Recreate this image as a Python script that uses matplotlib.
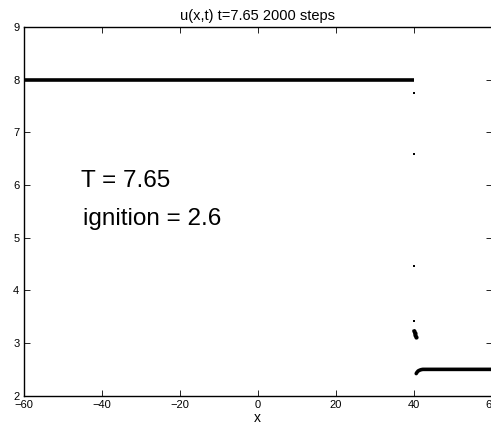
import matplotlib
matplotlib.use("Agg")
import matplotlib.pyplot as plt

# Data
x_burnt = [-60.0, 40.1]
u_burnt = [8.0, 8.0]

x_front = [40.1, 40.1, 40.1, 40.1, 40.15, 40.3, 40.5, 40.7]
u_front = [7.75, 6.58, 4.46, 3.42, 3.23, 3.19, 3.15, 3.11]

x_unburnt = [40.7, 40.9, 41.2, 41.6, 42.0, 42.4, 60.0]
u_unburnt = [2.42, 2.445, 2.47, 2.485, 2.495, 2.5, 2.5]

title = "u(x,t) t=7.65 2000 steps"
xlabel = "x"
xticks = [-60, -40, -20, 0, 20, 40, 60]
yticks = [2, 3, 4, 5, 6, 7, 8, 9]
annot1 = "T = 7.65"
annot2 = "ignition = 2.6"

plt.rcParams['font.family'] = ['Liberation Sans', 'DejaVu Sans']

fig = plt.figure(figsize=(4.91, 4.26), dpi=100)
ax = fig.add_axes([23.5 / 491, 1 - 395.7 / 426, (491.5 - 23.5) / 491, (395.7 - 27) / 426])

ax.plot(x_burnt, u_burnt, color='black', lw=2.6, solid_capstyle='butt')
ax.plot(x_front[:4], u_front[:4], ls='none', marker='s', ms=2, color='black', mew=0)
ax.plot(x_front[4:], u_front[4:], color='black', lw=2.2, marker='o', ms=2)
ax.plot(x_unburnt, u_unburnt, color='black', lw=2.6, solid_capstyle='round')

ax.set_xlim(-60, 60)
ax.set_ylim(2, 9)
ax.set_xticks(xticks)
ax.set_xticklabels([str(t).replace('-', '\u2212') for t in xticks])
ax.set_yticks(yticks)
ax.tick_params(direction='in', length=4.5, width=0.6, labelsize=8, pad=3,
               top=True, right=True, colors='black')
for s in ax.spines.values():
    s.set_linewidth(1.0)

ax.set_title(title, fontsize=10.5, pad=5)
ax.set_xlabel(xlabel, fontsize=10, labelpad=1)

ax.text(-45.2, 5.96, annot1, fontsize=17.5, va='baseline', ha='left')
ax.text(-44.7, 5.24, annot2, fontsize=17.5, va='baseline', ha='left')

fig.savefig("out.png", dpi=100)
